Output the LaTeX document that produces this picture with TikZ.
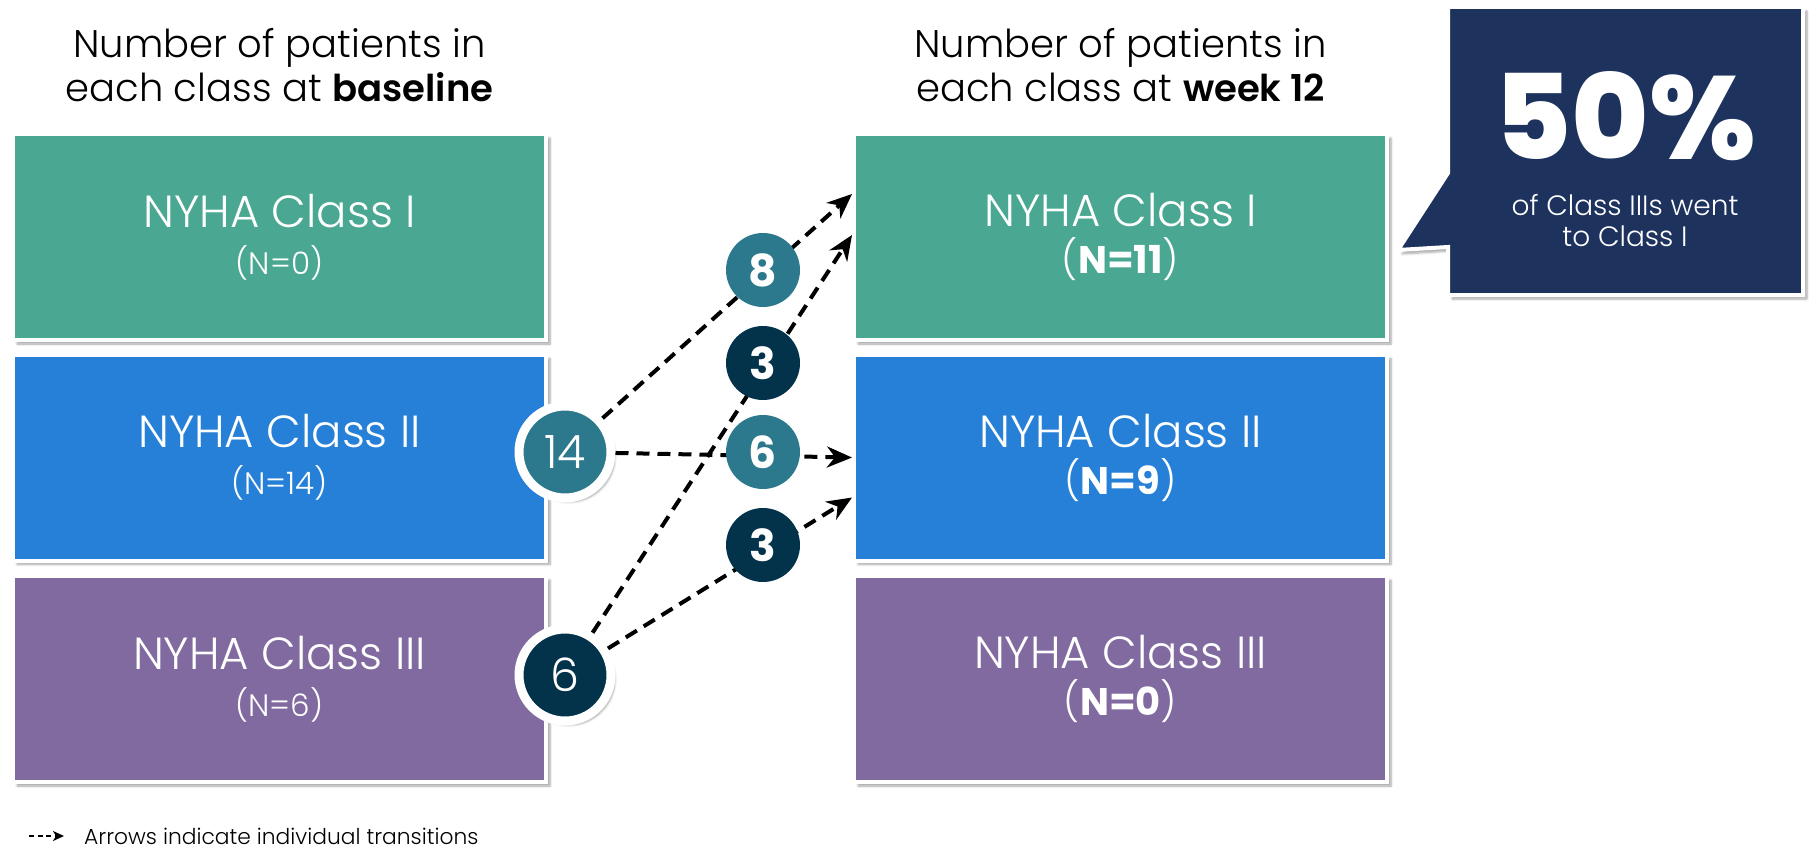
\documentclass[tikz,border=0pt]{standalone}
\usepackage{fontspec}
\setmainfont{Poppins}[UprightFont={* Light},BoldFont={* Bold}]
\newfontfamily\heavyfont{Poppins ExtraBold}
\newfontfamily\semifont{Poppins SemiBold}
\usetikzlibrary{arrows.meta,shadows.blur,calc}

\definecolor{clsone}{RGB}{74,167,145}
\definecolor{clstwo}{RGB}{38,128,216}
\definecolor{clsthree}{RGB}{129,106,160}
\definecolor{tealdot}{RGB}{44,121,142}
\definecolor{navydot}{RGB}{2,51,74}
\definecolor{callnavy}{RGB}{30,50,94}

\newcommand{\fsz}[2]{\fontsize{#1}{#2}\selectfont}

\begin{document}
\begin{tikzpicture}[x=1pt,y=-1pt,
    boxshadow/.style={blur shadow={shadow xshift=4pt,shadow yshift=-4pt,shadow blur steps=6,shadow opacity=35}},
    classbox/.style={rectangle,draw=white,line width=4pt,minimum width=533pt,minimum height=206pt,
      text=white,align=center,font=\fsz{45}{47},boxshadow},
    bigdot/.style={circle,draw=white,line width=9pt,minimum size=92pt,inner sep=0pt,
      text=white,font=\fsz{46}{50},boxshadow},
    middot/.style={circle,minimum size=74pt,inner sep=0pt,text=white,font=\fsz{44}{48}\bfseries},
    heading/.style={align=center,font=\fsz{38.5}{44}},
    trans/.style={dash pattern=on 13pt off 8pt,line width=4pt,-{Stealth[length=25pt,width=21pt,inset=8pt]}}
  ]
  \useasboundingbox (0,0) rectangle (1819,851);

  % baseline column
  \node[heading] (hbase) at (279.5,65) {Number of patients in\\each class at {\semifont\fsz{37}{44}baseline}};
  \node[classbox,fill=clsone]   (b1) at (279.5,237)   {NYHA Class I\\{\fsz{31}{32}(N=0)}};
  \node[classbox,fill=clstwo]   (b2) at (279.5,457.5) {NYHA Class II\\{\fsz{31}{32}(N=14)}};
  \node[classbox,fill=clsthree] (b3) at (279.5,679)   {NYHA Class III\\{\fsz{31}{32}(N=6)}};

  % week 12 column
  \node[heading] (hweek) at (1120.5,65) {Number of patients in\\each class at {\semifont\fsz{37}{44}week 12}};
  \node[classbox,fill=clsone]   (w1) at (1120.5,237)   {NYHA Class I\\{\fsz{38.5}{40}(\textbf{N=11})}};
  \node[classbox,fill=clstwo]   (w2) at (1120.5,457.5) {NYHA Class II\\{\fsz{38.5}{40}(\textbf{N=9})}};
  \node[classbox,fill=clsthree] (w3) at (1120.5,679)   {NYHA Class III\\{\fsz{38.5}{40}(\textbf{N=0})}};

  \node[bigdot,fill=tealdot] (d14) at (565,452) {14};
  \node[bigdot,fill=navydot] (d6)  at (565,675) {6};

  \coordinate (t1a) at ($(w1.west)+(0,-43)$);
  \coordinate (t1b) at ($(w1.west)+(0,-2)$);
  \coordinate (t2a) at (w2.west);
  \coordinate (t2b) at ($(w2.west)+(0,40)$);

  \path[trans]
    (d14) edge (t1a)
          edge (t2a)
    (d6)  edge (t1b)
          edge (t2b);

  \node[middot,fill=tealdot] (m8)  at (763,270) {8};
  \node[middot,fill=navydot] (m3a) at (763,363) {3};
  \node[middot,fill=tealdot] (m6)  at (763,452) {6};
  \node[middot,fill=navydot] (m3b) at (763,545) {3};

  % callout
  \filldraw[fill=callnavy,draw=white,line width=4pt,boxshadow]
    (1448,7) -- (1803,7) -- (1803,295) -- (1448,295) -- (1448,247) -- (1398,250) -- (1448,173) -- cycle;
  \node[text=white,font=\fsz{118}{118}\heavyfont] (pct) at (1625,116) {50\%};
  \node[text=white,align=center,font=\fsz{28}{31}] (pctnote) at (1625,221) {of Class IIIs went\\to Class I};

  % legend
  \coordinate (legtail) at (29,836);
  \node[anchor=west,font=\fsz{21.8}{24},inner sep=0pt] (legend) at (84,836) {Arrows indicate individual transitions};
  \draw[dash pattern=on 5pt off 3.5pt,line width=1.8pt,-{Stealth[length=11pt,width=10pt,inset=3pt]},shorten >=20pt]
    (legtail) -- (legend.west);
\end{tikzpicture}
\end{document}
